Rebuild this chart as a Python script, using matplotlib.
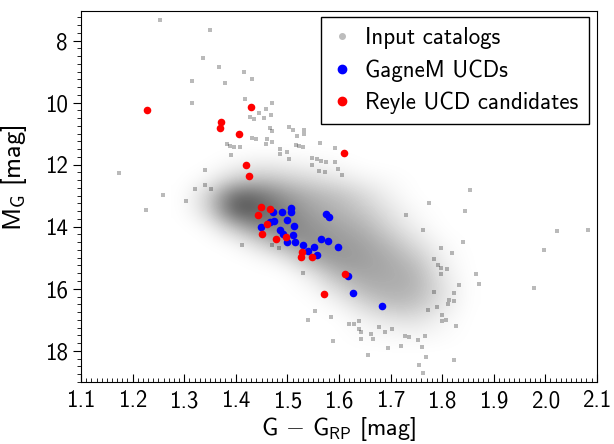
import matplotlib
matplotlib.use('Agg')
import matplotlib.pyplot as plt
import numpy as np
from matplotlib.colors import LinearSegmentedColormap
from matplotlib.lines import Line2D
from matplotlib.ticker import MultipleLocator, FormatStrFormatter

plt.rcParams['font.family'] = ['cmss10', 'DejaVu Sans']
plt.rcParams['mathtext.fontset'] = 'custom'
plt.rcParams['mathtext.rm'] = 'cmss10'
plt.rcParams['axes.unicode_minus'] = False

# scattered catalog stars (outskirts of the cloud)
gray_color = [1.254, 1.350, 1.336, 1.368, 1.415, 1.432, 1.316, 1.379, 1.417, 1.316,
              1.471, 1.458, 1.427, 1.435, 1.445, 1.455, 1.469, 1.467, 1.471, 1.504,
              1.510, 1.532, 1.532, 1.518, 1.564, 1.593, 1.432, 1.440, 1.461, 1.471,
              1.458, 1.485, 1.485, 1.499, 1.503, 1.516, 1.522, 1.530, 1.548, 1.558,
              1.566, 1.575, 1.548, 1.561, 1.573, 1.593, 1.599, 1.605, 1.383, 1.388,
              1.397, 1.409, 1.390, 1.173, 1.340, 1.259, 1.321, 1.340, 1.352, 1.304,
              1.413, 1.471, 1.483, 1.531, 1.541, 1.554, 1.588, 1.638, 1.656, 1.585,
              1.642, 1.695, 1.720, 1.756, 1.763, 1.769, 1.761, 1.823, 1.728, 1.735,
              1.753, 1.766, 1.827, 1.678, 1.689, 1.663, 1.666, 1.638, 1.643, 1.630,
              1.620, 1.702, 1.855, 1.774, 1.844, 1.731, 2.022, 2.083, 1.763, 1.840,
              1.797, 1.819, 1.997, 1.866, 1.872, 1.979, 1.832, 1.823, 1.823, 1.808,
              1.799, 1.799, 1.790, 1.811, 1.813, 1.785, 1.772, 1.797, 1.809, 1.793,
              1.785, 1.798, 1.225]
gray_mag = [7.35, 7.67, 8.56, 8.85, 9.02, 9.23, 9.31, 9.38, 9.88, 10.02,
            10.02, 10.19, 10.45, 10.53, 10.34, 10.51, 10.41, 10.83, 10.92, 10.78,
            10.89, 10.89, 11.01, 11.07, 11.30, 11.46, 11.15, 11.17, 11.17, 11.26,
            11.34, 11.51, 11.64, 11.60, 11.81, 11.35, 11.39, 11.43, 11.77, 11.81,
            11.87, 11.92, 12.02, 12.20, 12.24, 11.92, 12.13, 12.34, 11.34, 11.40,
            11.43, 11.44, 11.68, 12.26, 12.16, 12.98, 12.80, 12.65, 12.80, 13.17,
            14.60, 14.58, 14.69, 15.48, 17.00, 16.71, 17.67, 17.03, 18.13, 16.92,
            17.63, 17.91, 17.83, 18.46, 18.71, 18.21, 17.88, 18.29, 17.51, 17.54,
            17.65, 17.51, 17.19, 17.23, 17.40, 17.46, 17.62, 17.30, 17.40, 17.14,
            17.14, 17.30, 12.83, 13.22, 13.50, 13.62, 14.15, 14.12, 14.12, 14.50,
            14.70, 14.84, 14.75, 15.51, 15.84, 15.96, 15.89, 16.13, 16.39, 17.00,
            17.03, 16.85, 16.58, 16.50, 16.37, 16.12, 16.69, 15.32, 15.35, 15.22,
            15.05, 15.54, 13.47]

# density of the catalog cloud (fraction of cover), rows = M_G, cols = colour
dens_color = [1.30, 1.35, 1.40, 1.45, 1.50, 1.55, 1.60, 1.65, 1.70, 1.75, 1.80, 1.85]
dens_mag = [11.5, 12.0, 12.5, 13.0, 13.5, 14.0, 14.5, 15.0, 15.5, 16.0, 16.5, 17.0, 17.5, 18.0]
density = [
    [0.00, 0.00, 0.00, 0.00, 0.00, 0.00, 0.00, 0.00, 0.00, 0.00, 0.00, 0.00],
    [0.00, 0.00, 0.04, 0.08, 0.06, 0.04, 0.02, 0.00, 0.00, 0.00, 0.00, 0.00],
    [0.00, 0.04, 0.20, 0.26, 0.20, 0.15, 0.10, 0.05, 0.02, 0.00, 0.00, 0.00],
    [0.00, 0.18, 0.64, 0.56, 0.40, 0.30, 0.25, 0.15, 0.05, 0.00, 0.00, 0.00],
    [0.00, 0.15, 0.70, 0.62, 0.48, 0.36, 0.30, 0.22, 0.10, 0.02, 0.00, 0.00],
    [0.00, 0.02, 0.26, 0.50, 0.50, 0.42, 0.36, 0.30, 0.16, 0.05, 0.00, 0.00],
    [0.00, 0.00, 0.03, 0.18, 0.40, 0.45, 0.40, 0.36, 0.26, 0.12, 0.02, 0.00],
    [0.00, 0.00, 0.00, 0.02, 0.10, 0.36, 0.42, 0.38, 0.33, 0.22, 0.05, 0.00],
    [0.00, 0.00, 0.00, 0.00, 0.00, 0.10, 0.32, 0.36, 0.34, 0.30, 0.08, 0.00],
    [0.00, 0.00, 0.00, 0.00, 0.00, 0.02, 0.15, 0.30, 0.32, 0.30, 0.12, 0.00],
    [0.00, 0.00, 0.00, 0.00, 0.00, 0.00, 0.04, 0.16, 0.26, 0.24, 0.10, 0.00],
    [0.00, 0.00, 0.00, 0.00, 0.00, 0.00, 0.00, 0.05, 0.10, 0.12, 0.04, 0.00],
    [0.00, 0.00, 0.00, 0.00, 0.00, 0.00, 0.00, 0.02, 0.03, 0.04, 0.02, 0.00],
    [0.00, 0.00, 0.00, 0.00, 0.00, 0.00, 0.00, 0.00, 0.00, 0.00, 0.00, 0.00],
]

gagne_color = [1.472, 1.490, 1.507, 1.508, 1.499, 1.475, 1.448, 1.466, 1.486, 1.512,
               1.492, 1.511, 1.499, 1.515, 1.531, 1.551, 1.557, 1.540, 1.566, 1.579,
               1.598, 1.574, 1.581, 1.617, 1.628, 1.684]
gagne_mag = [13.54, 13.52, 13.39, 13.54, 13.79, 13.81, 14.01, 13.84, 14.09, 13.98,
             14.24, 14.27, 14.50, 14.50, 14.59, 14.65, 14.90, 14.77, 14.39, 14.47,
             14.65, 13.60, 13.70, 15.58, 16.15, 16.54]

reyle_color = [1.227, 1.372, 1.370, 1.406, 1.429, 1.419, 1.426, 1.609, 1.449, 1.466,
               1.443, 1.460, 1.451, 1.478, 1.497, 1.529, 1.527, 1.548, 1.612, 1.572]
reyle_mag = [10.24, 10.62, 10.83, 11.02, 10.15, 12.00, 12.37, 11.62, 13.37, 13.43,
             13.61, 13.91, 14.22, 14.39, 14.32, 14.81, 14.98, 14.97, 15.54, 16.18]

fig = plt.figure(figsize=(6.14, 4.44), dpi=100)
ax = fig.add_axes([0.132, 0.140, 0.840, 0.835])

fade = LinearSegmentedColormap.from_list('fade', [(0, 0, 0, 0), (0, 0, 0, 1)])
dx = (dens_color[1] - dens_color[0]) / 2
dy = (dens_mag[1] - dens_mag[0]) / 2
ax.imshow(np.array(density), cmap=fade, vmin=0, vmax=1, origin='lower', aspect='auto',
          interpolation='bicubic',
          extent=(dens_color[0] - dx, dens_color[-1] + dx, dens_mag[0] - dy, dens_mag[-1] + dy),
          zorder=1)
ax.scatter(gray_color, gray_mag, s=5, marker='s', color='k', alpha=0.27, linewidths=0, zorder=2)
ax.scatter(gagne_color, gagne_mag, s=30, color='blue', linewidths=0, zorder=3)
ax.scatter(reyle_color, reyle_mag, s=30, color='red', linewidths=0, zorder=4)

ax.set_xlim(1.1, 2.1)
ax.set_ylim(19.0, 7.05)
ax.xaxis.set_major_locator(MultipleLocator(0.1))
ax.xaxis.set_minor_locator(MultipleLocator(0.01))
ax.xaxis.set_major_formatter(FormatStrFormatter('%.1f'))
ax.yaxis.set_major_locator(MultipleLocator(2))
ax.yaxis.set_minor_locator(MultipleLocator(0.25))
ax.tick_params(axis='x', which='both', direction='in', labelsize=16.5, pad=6)
ax.tick_params(axis='x', which='major', length=6)
ax.tick_params(axis='x', which='minor', length=3)
ax.tick_params(axis='y', which='both', direction='out', labelsize=16.5)
ax.tick_params(axis='y', which='major', length=6)
ax.tick_params(axis='y', which='minor', length=3)

ax.set_xlabel(r'G $-$ G$_\mathrm{RP}$ [mag]', fontsize=17.5, labelpad=2)
ax.set_ylabel(r'M$_\mathrm{G}$ [mag]', fontsize=19)
ax.yaxis.set_label_coords(-0.1, 0.55)

handles = [
    Line2D([], [], ls='none', marker='o', markersize=4, color='#bdbdbd', label='Input catalogs'),
    Line2D([], [], ls='none', marker='o', markersize=6, color='blue', label='GagneM UCDs'),
    Line2D([], [], ls='none', marker='o', markersize=6, color='red', label='Reyle UCD candidates'),
]
leg = ax.legend(handles=handles, loc='upper right', bbox_to_anchor=(1 - 8 / 516, 1 - 6 / 371),
                borderaxespad=0, fontsize=16.5, fancybox=False, framealpha=1, edgecolor='k',
                handlelength=1.0, handletextpad=0.5, labelspacing=0.42, borderpad=0.45)
leg.get_frame().set_linewidth(1.0)

fig.savefig('out.png', dpi=100)
